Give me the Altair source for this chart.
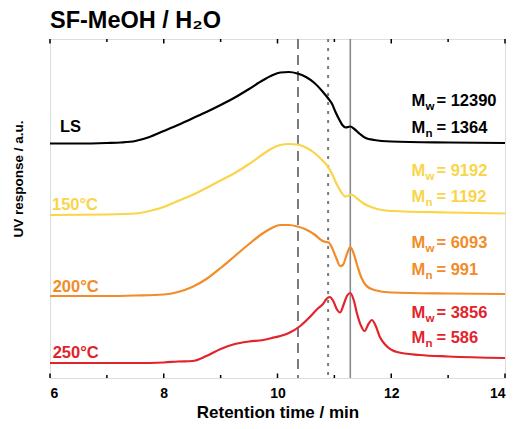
import altair as alt
import pandas as pd

# ---- data ----
ls_time = [6.0, 6.5, 7.0, 7.25, 7.5, 7.75, 8.0, 8.25, 8.5, 8.75, 9.0, 9.25, 9.5, 9.75, 9.9, 10.05, 10.2, 10.35,
           10.5, 10.65, 10.8, 10.9, 10.96, 11.02, 11.08, 11.14, 11.2, 11.28, 11.35, 11.45, 11.55, 11.7, 12.0, 13.0, 14.0]
ls_signal = [234.5, 234.5, 235, 235.5, 237, 241, 247, 253, 259.5, 266, 273, 280.5, 289, 298, 302.5, 305.5, 306, 304.5,
             301, 295, 286, 279, 274, 266, 259, 253, 250.5, 251.5, 249, 244, 240, 238, 236.5, 235.5, 235]

t150_time = [6.0, 7.0, 7.5, 7.75, 8.0, 8.25, 8.5, 8.75, 9.0, 9.25, 9.5, 9.75, 9.9, 10.05, 10.2, 10.35, 10.5, 10.65,
             10.8, 10.88, 10.96, 11.04, 11.12, 11.2, 11.3, 11.4, 11.5, 11.6, 11.75, 12.0, 13.0, 14.0]
t150_signal = [163, 163.5, 164.5, 167, 171, 177, 183, 190, 197.5, 205, 214, 224, 229.5, 233, 234, 233.5, 230.5, 225,
               217, 212, 204, 194, 186, 181.5, 183.5, 179.5, 175, 172, 169, 167, 165.5, 164.5]

t200_time = [6.0, 7.0, 7.5, 8.0, 8.25, 8.5, 8.75, 9.0, 9.25, 9.5, 9.75, 9.9, 10.05, 10.2, 10.35, 10.5, 10.65, 10.78,
             10.85, 10.9, 10.96, 11.04, 11.1, 11.15, 11.22, 11.28, 11.33, 11.4, 11.47, 11.55, 11.7, 12.0, 13.0, 14.0]
t200_signal = [82, 82, 82.5, 83.5, 86, 91, 99, 110, 122, 134, 145, 150, 153, 153, 151.5, 148.5, 143.5, 137.5,
               136, 135.5, 130, 119, 112, 113, 124, 131, 126, 113, 101, 93, 88, 85.5, 84.5, 84]

t250_time = [6.0, 7.5, 8.0, 8.25, 8.5, 8.75, 9.0, 9.25, 9.5, 9.75, 9.9, 10.05, 10.2, 10.4, 10.55, 10.7, 10.8, 10.86,
             10.92, 10.98, 11.05, 11.1, 11.16, 11.22, 11.28, 11.34, 11.4, 11.47, 11.53, 11.6, 11.66, 11.72, 11.8,
             11.9, 12.1, 12.5, 13.0, 14.0]
t250_signal = [15, 15, 15.5, 16.5, 17, 22, 29, 34, 36.5, 38, 40, 42, 45, 52, 60, 69, 74, 79,
               81, 77, 68, 65.5, 73, 82, 85, 78, 64, 52, 47, 54, 58, 53, 41,
               33, 26, 23, 21.5, 20]

series_names = ["LS", "150°C", "200°C", "250°C"]
series_colors = ["#000000", "#F9D54A", "#F28C28", "#E3232B"]

label_time = [6.175, 6.035, 6.047, 6.047]
label_signal = [246, 168, 86, 20]

mw_values = ["12390", "9192", "6093", "3856"]
mn_values = ["1364", "1192", "991", "586"]
mw_signal = [272, 202, 130, 60]
mn_signal = [245, 176, 103, 35]
mass_time = 12.355

ref_lines_time = [10.36, 10.89, 11.28]
ref_lines_style = ["dashed", "dotted", "solid"]

major_ticks = [6, 8, 10, 12, 14]
minor_ticks = [7, 9, 11, 13]

# ---- build tables ----
rows = []
for name, tt, ss in zip(series_names,
                        [ls_time, t150_time, t200_time, t250_time],
                        [ls_signal, t150_signal, t200_signal, t250_signal]):
    for t, s in zip(tt, ss):
        rows.append({"series": name, "t": t, "s": s})
curves = pd.DataFrame(rows)

labels = pd.DataFrame({"series": series_names, "t": label_time, "s": label_signal})

mass_rows = []
for name, mw, mn, yw, yn in zip(series_names, mw_values, mn_values, mw_signal, mn_signal):
    mass_rows.append({"series": name, "t": mass_time, "s": yw, "sub": "w", "rest": "= " + mw})
    mass_rows.append({"series": name, "t": mass_time, "s": yn, "sub": "n", "rest": "= " + mn})
masses = pd.DataFrame(mass_rows)

refs = pd.DataFrame({"t": ref_lines_time, "style": ref_lines_style})
ticks_major = pd.DataFrame({"t": major_ticks})
ticks_minor = pd.DataFrame({"t": minor_ticks})

W, H = 455, 339
FONT = "Liberation Sans"

xscale = alt.Scale(domain=[6, 14], nice=False)
yscale = alt.Scale(domain=[0, 339], nice=False, zero=False)
cscale = alt.Scale(domain=series_names, range=series_colors)

x_axis = alt.Axis(values=major_ticks, ticks=False, domain=False, grid=False, format="d",
                  labelFont=FONT, labelFontSize=14, labelFontWeight="bold", labelColor="black",
                  labelBaseline="alphabetic", labelPadding=19,
                  title="Retention time / min", titleFont=FONT, titleFontSize=17, titleFontWeight="bold",
                  titleColor="black", titleBaseline="alphabetic", titleY=39)
y_axis = alt.Axis(labels=False, ticks=False, domain=False, grid=False,
                  title="UV response / a.u.", titleFont=FONT, titleFontSize=13.5, titleFontWeight="bold",
                  titleColor="black", titleAngle=270, titleAlign="center", titleBaseline="middle",
                  titleX=-32, titleY=139.5)

lines = alt.Chart(curves).mark_line(strokeWidth=2.2, interpolate="monotone").encode(
    x=alt.X("t:Q", scale=xscale, axis=x_axis),
    y=alt.Y("s:Q", scale=yscale, axis=y_axis),
    color=alt.Color("series:N", scale=cscale, legend=None),
    detail="series:N",
)

dashed = alt.Chart(refs[refs["style"] == "dashed"]).mark_rule(
    color="#7a7a7a", strokeWidth=2, strokeDash=[10, 6]).encode(x=alt.X("t:Q", scale=xscale))
dotted = alt.Chart(refs[refs["style"] == "dotted"]).mark_rule(
    color="#7a7a7a", strokeWidth=2, strokeDash=[3, 6]).encode(x=alt.X("t:Q", scale=xscale))
solid = alt.Chart(refs[refs["style"] == "solid"]).mark_rule(
    color="#8a8a8a", strokeWidth=1.6).encode(x=alt.X("t:Q", scale=xscale))

tick_layers = []
for df, length in [(ticks_major, 4.5), (ticks_minor, 3)]:
    tick_layers.append(alt.Chart(df).mark_rule(color="black", strokeWidth=1.5).encode(
        x=alt.X("t:Q", scale=xscale), y=alt.value(H), y2=alt.value(H - length)))
    tick_layers.append(alt.Chart(df).mark_rule(color="black", strokeWidth=1.5).encode(
        x=alt.X("t:Q", scale=xscale), y=alt.value(0), y2=alt.value(length)))

text_common = dict(align="left", baseline="alphabetic", font=FONT, fontWeight="bold")

series_text = alt.Chart(labels).mark_text(fontSize=16.5, **text_common).encode(
    x=alt.X("t:Q", scale=xscale), y=alt.Y("s:Q", scale=yscale),
    text="series:N", color=alt.Color("series:N", scale=cscale, legend=None))

m_text = alt.Chart(masses).mark_text(fontSize=16.5, **text_common).encode(
    x=alt.X("t:Q", scale=xscale), y=alt.Y("s:Q", scale=yscale),
    text=alt.value("M"), color=alt.Color("series:N", scale=cscale, legend=None))
sub_text = alt.Chart(masses).mark_text(fontSize=11.5, dx=14, dy=4, **text_common).encode(
    x=alt.X("t:Q", scale=xscale), y=alt.Y("s:Q", scale=yscale),
    text="sub:N", color=alt.Color("series:N", scale=cscale, legend=None))
rest_text = alt.Chart(masses).mark_text(fontSize=16.5, dx=25, **text_common).encode(
    x=alt.X("t:Q", scale=xscale), y=alt.Y("s:Q", scale=yscale),
    text="rest:N", color=alt.Color("series:N", scale=cscale, legend=None))

chart = alt.layer(
    dashed, dotted, solid, lines, *tick_layers, series_text, m_text, sub_text, rest_text
).properties(
    width=W, height=H,
    autosize="none",
    padding={"left": 42, "top": 31, "right": 1, "bottom": 43},
    title=alt.Title("SF-MeOH / H₂O", anchor="start", frame="group", font=FONT, fontSize=23.5,
                    fontWeight="bold", color="black", offset=9, baseline="alphabetic", dy=22),
).configure_view(stroke="black", strokeWidth=1.6).configure(background="white")

chart.save("out.html", embed_options={"renderer": "svg", "actions": False})
